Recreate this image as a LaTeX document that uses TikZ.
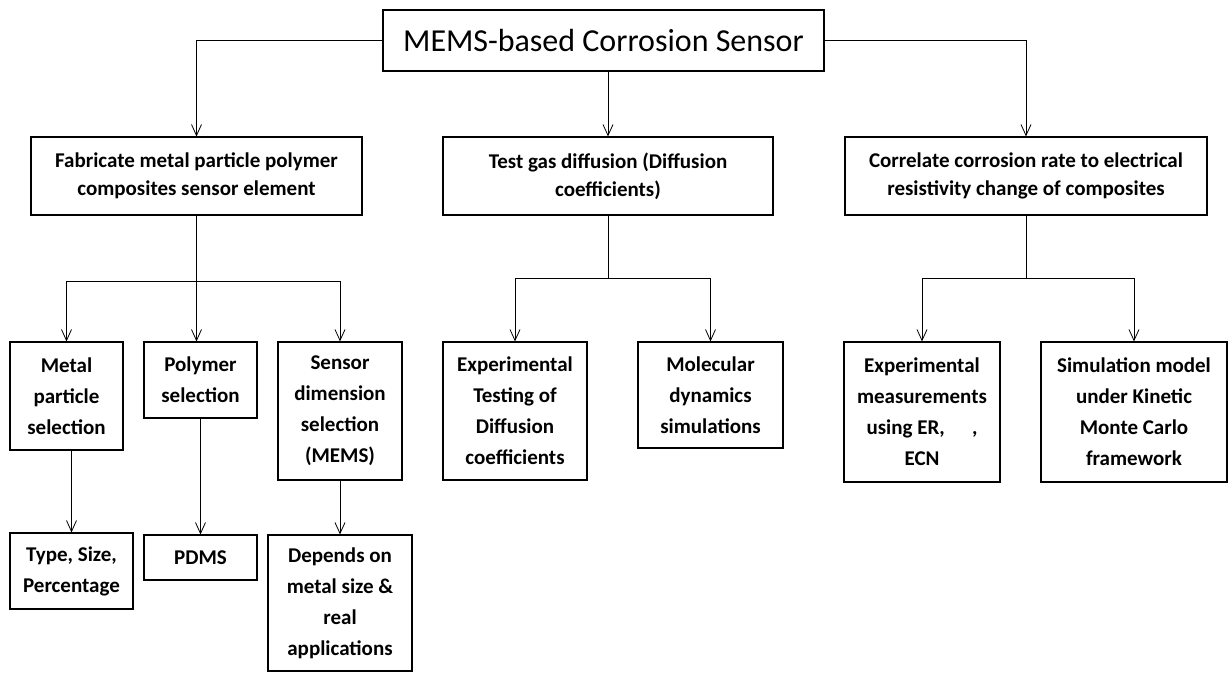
\documentclass[tikz,border=0pt]{standalone}
\usepackage{fontspec}
\setmainfont{Carlito}
\usetikzlibrary{arrows.meta}
\begin{document}
\begin{tikzpicture}[x=1pt,y=-1pt,
  box/.style={draw, line width=1.1pt, inner sep=0pt, align=center,
    font=\bfseries\fontsize{21}{31}\selectfont},
  wide/.style={box, font=\bfseries\fontsize{21}{28}\selectfont},
  link/.style={line width=0.8pt},
  arr/.style={link, -{Straight Barb[length=11pt,width=10pt,line width=0.8pt]}}]
\useasboundingbox (0,0) rectangle (1232,673);

% root
\node[draw, line width=1.1pt, minimum width=441pt, minimum height=61pt,
  font=\fontsize{32}{36}\selectfont] (title) at (603.5,40.5) {MEMS-based Corrosion Sensor};

% first level
\node[wide, minimum width=331pt, minimum height=78pt] (fab) at (196.5,176)
  {Fabricate metal particle polymer\\composites sensor element};
\node[wide, minimum width=330pt, minimum height=78pt] (test) at (608,176)
  {Test gas diffusion (Diffusion\\coefficients)};
\node[wide, minimum width=362pt, minimum height=78pt] (corr) at (1026,176)
  {Correlate corrosion rate to electrical\\resistivity change of composites};

% second level
\node[box, minimum width=113pt, minimum height=108pt] (metal) at (66.5,396)
  {Metal\\particle\\selection};
\node[box, minimum width=113pt, minimum height=76pt] (poly) at (200.5,380)
  {Polymer\\selection};
\node[box, minimum width=124pt, minimum height=138pt] (sensor) at (340,411)
  {Sensor\\dimension\\selection\\(MEMS)};
\node[box, minimum width=144pt, minimum height=138pt] (exptest) at (515,411)
  {Experimental\\Testing of\\Diffusion\\coefficients};
\node[box, minimum width=145pt, minimum height=106pt] (mol) at (710.5,395)
  {Molecular\\dynamics\\simulations};
\node[box, minimum width=156pt, minimum height=140pt] (expmeas) at (922,412)
  {Experimental\\measurements\\using ER,\hspace{1.3em},\\ECN};
\node[box, minimum width=186pt, minimum height=140pt] (sim) at (1134,412)
  {Simulation model\\under Kinetic\\Monte Carlo\\framework};

% third level
\node[box, minimum width=123pt, minimum height=76pt] (type) at (71.5,571)
  {Type, Size,\\Percentage};
\node[box, minimum width=113pt, minimum height=45pt] (pdms) at (200.5,557.5)
  {PDMS};
\node[box, minimum width=144pt, minimum height=136pt] (dep) at (340,603)
  {Depends on\\metal size \&\\real\\applications};

% branch points
\coordinate (fb) at (196.5,281);
\coordinate (tb) at (608,278);
\coordinate (cb) at (1026,278);

% root to first level
\draw[arr] (title.west) -| (fab.north);
\draw[arr] (title.east) -| (corr.north);
\draw[arr] (test.north |- title.south) -- (test.north);

% first level to second level
\draw[link] (fab.south) -- (fb);
\draw[link] (metal.north |- fb) -- (sensor.north |- fb);
\draw[arr] (metal.north |- fb) -- (metal.north);
\draw[arr] (fb) -- (fb |- poly.north);
\draw[arr] (sensor.north |- fb) -- (sensor.north);

\draw[link] (test.south) -- (tb);
\draw[link] (exptest.north |- tb) -- (mol.north |- tb);
\draw[arr] (exptest.north |- tb) -- (exptest.north);
\draw[arr] (mol.north |- tb) -- (mol.north);

\draw[link] (corr.south) -- (cb);
\draw[link] (expmeas.north |- cb) -- (sim.north |- cb);
\draw[arr] (expmeas.north |- cb) -- (expmeas.north);
\draw[arr] (sim.north |- cb) -- (sim.north);

% second level to third level
\draw[arr] (type.north |- metal.south) -- (type.north);
\draw[arr] (poly.south) -- (pdms.north);
\draw[arr] (sensor.south) -- (dep.north);
\end{tikzpicture}
\end{document}
